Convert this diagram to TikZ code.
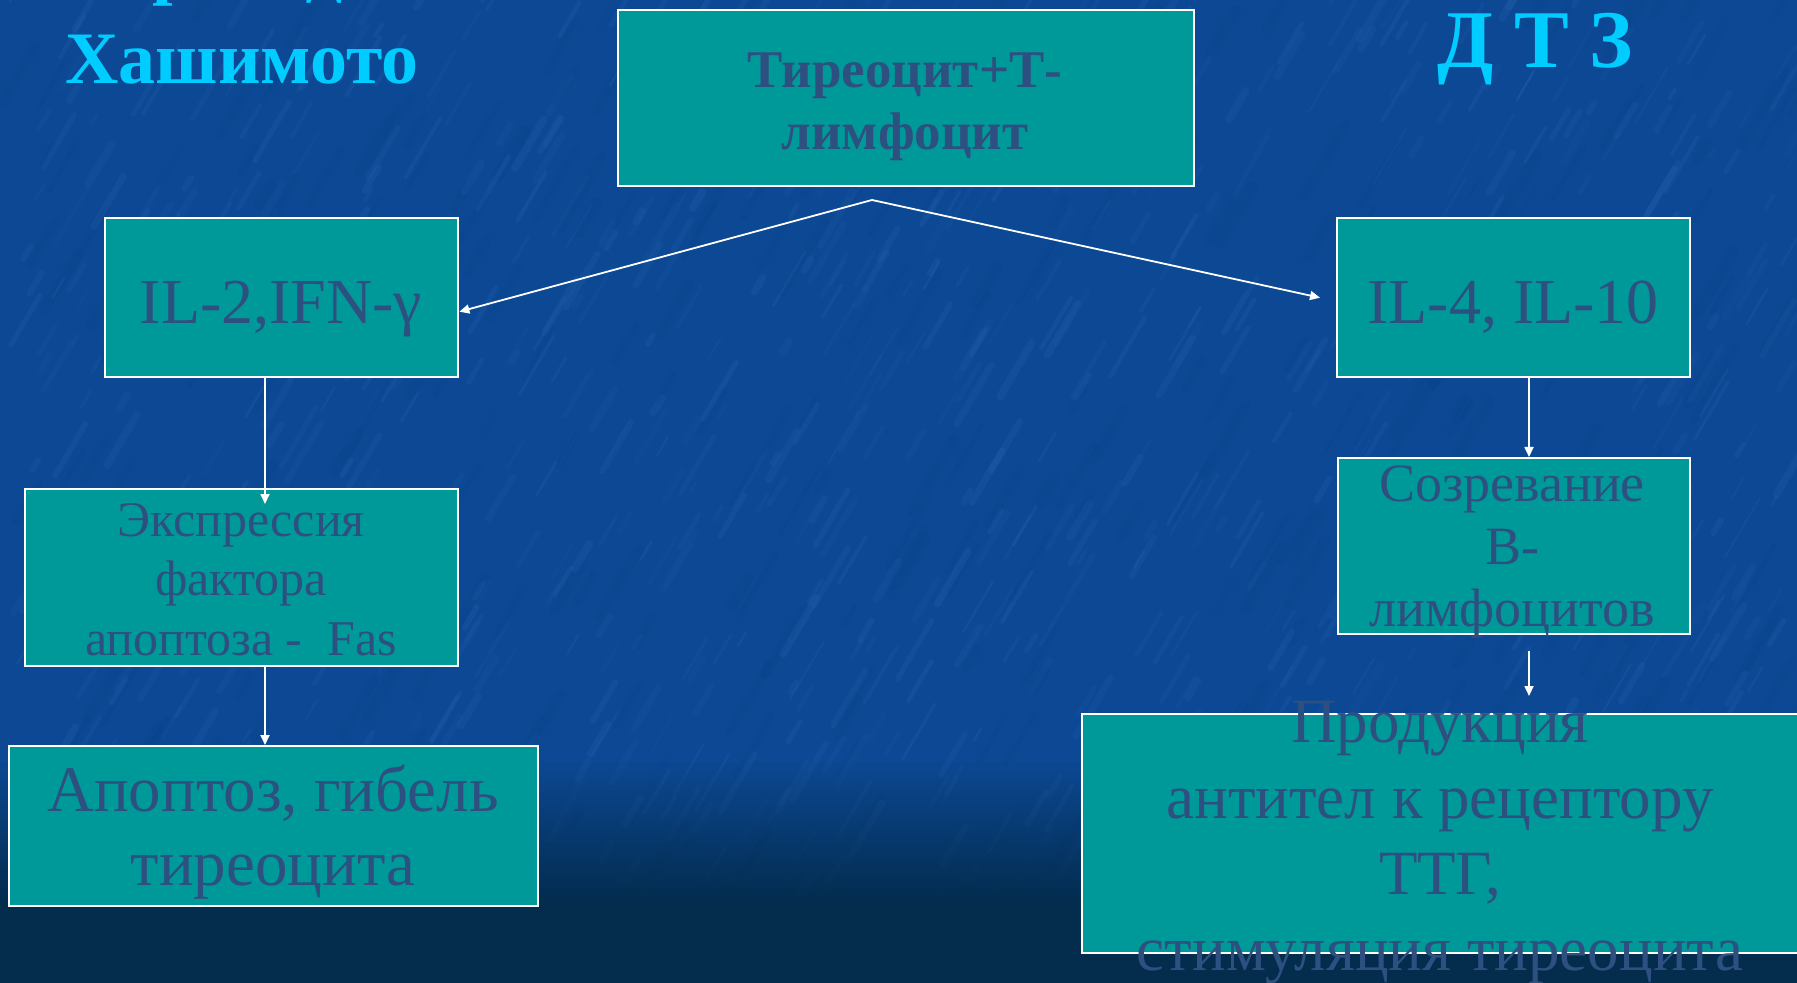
\documentclass[tikz,border=0pt]{standalone}
\usepackage{fontspec}
\setmainfont{Liberation Serif}
\usetikzlibrary{arrows.meta,calc,fadings}

\definecolor{bgblue}{HTML}{0C4893}
\definecolor{bgdark}{HTML}{032C4D}
\definecolor{streak}{HTML}{3C78C6}
\definecolor{shadow}{HTML}{063A80}
\definecolor{boxteal}{HTML}{009999}
\definecolor{boxtext}{HTML}{2E5080}
\definecolor{titlecyan}{HTML}{00CCFF}

% centred block of lines; the node baseline is the first line's baseline
\newcommand\txtblock[3]{{\fontsize{#1}{#2}\selectfont\begin{tabular}[t]{@{}c@{}}#3\end{tabular}}}

\tikzset{
  box/.style={draw=white, line width=1.2pt, fill=boxteal, inner sep=0pt, anchor=north west},
  lbl/.style={text=boxtext, inner sep=0pt, anchor=base},
  ttl/.style={text=titlecyan, inner sep=0pt, anchor=base, font=\bfseries},
  arr/.style={draw=white, line width=0.9pt, -{Triangle[length=5pt,width=4.5pt]}},
}

\begin{document}
\begin{tikzpicture}[x=0.5pt,y=-0.5pt]
\useasboundingbox (0,0) rectangle (1797,983);
\clip (0,0) rectangle (1797,983);

% mottled blue background
\fill[bgblue] (0,0) rectangle (1797,983);
\pgfmathsetseed{11}
\foreach \i in {1,...,350}{
  \pgfmathsetmacro\sx{rnd*1850}
  \pgfmathsetmacro\sy{rnd*1000}
  \pgfmathsetmacro\sl{20+rnd*70}
  \pgfmathsetmacro\sw{2+rnd*4}
  \pgfmathsetmacro\so{0.05+rnd*0.08}
  \draw[shadow, opacity=\so, line width=\sw pt, line cap=round] (\sx,\sy) -- ++(0.5*\sl,-0.85*\sl);
}
\foreach \i in {1,...,900}{
  \pgfmathsetmacro\sx{rnd*1850}
  \pgfmathsetmacro\sy{rnd*1000}
  \pgfmathsetmacro\sl{10+rnd*60}
  \pgfmathsetmacro\sw{1+rnd*3}
  \pgfmathsetmacro\so{0.05+rnd*0.1}
  \draw[streak, opacity=\so, line width=\sw pt, line cap=round] (\sx,\sy) -- ++(0.5*\sl,-0.85*\sl);
}
\fill[bgdark, path fading=north] (0,760) rectangle (1797,905);
\fill[bgdark] (0,904) rectangle (1797,983);

% boxes
\node[box, minimum width=288pt, minimum height=88pt] (top) at (617,9) {};
\node[box, minimum width=176.5pt, minimum height=79.5pt] (il2) at (104,217) {};
\node[box, minimum width=176.5pt, minimum height=79.5pt] (il4) at (1336,217) {};
\node[box, minimum width=216.5pt, minimum height=88.5pt] (expr) at (24,488) {};
\node[box, minimum width=264.5pt, minimum height=80pt] (apop) at (8,745) {};
\node[box, minimum width=176pt, minimum height=88pt] (sozr) at (1337,457) {};
\node[box, minimum width=359.5pt, minimum height=119.5pt] (prod) at (1081,713) {};

% titles
\node[ttl] (hash) at (242,-9) {\txtblock{37}{46.5}{Тиреоидит\\Хашимото}};
\node[ttl] (dtz) at (1535,68) {\fontsize{41}{46}\selectfont Д Т З};

% box texts
\node[lbl, font=\bfseries] (toptxt) at (905,88) {\txtblock{26.5}{31}{Тиреоцит+Т-\\лимфоцит}};
\node[lbl] (il2txt) at (281,324) {\fontsize{32}{38}\selectfont IL-2,IFN-γ};
\node[lbl] (il4txt) at (1513,324) {\fontsize{32}{38}\selectfont IL-4, IL-10};
\node[lbl] (exprtxt) at (241,536) {\txtblock{25}{29.75}{Экспрессия\\фактора\\апоптоза -\ \ Fas}};
\node[lbl] (apoptxt) at (273,811) {\txtblock{32.5}{37}{Апоптоз, гибель\\тиреоцита}};
\node[lbl] (sozrtxt) at (1512,502) {\txtblock{27}{31.25}{Созревание\\В-\\лимфоцитов}};
\node[lbl] (prodtxt) at (1440,742) {\txtblock{31.5}{38}{Продукция\\антител к рецептору\\ТТГ,\\стимуляция тиреоцита}};

% connectors
\coordinate (fork) at (872,200);
\coordinate (lx) at (265,0);
\coordinate (rx) at (1529,0);
\draw[arr] (fork) -- ($(il2.east)+(0,14)$);
\draw[arr] (fork) -- ($(il4.west)+(-16,0)$);
\draw[arr] (il2.south -| lx) -- ($(expr.north -| lx)+(0,16)$);
\draw[arr] (expr.south -| lx) -- (apop.north -| lx);
\draw[arr] (il4.south -| rx) -- (sozr.north -| rx);
\draw[arr] ($(sozr.south -| rx)+(0,16)$) -- ($(prod.north -| rx)+(0,-17)$);
\end{tikzpicture}
\end{document}
